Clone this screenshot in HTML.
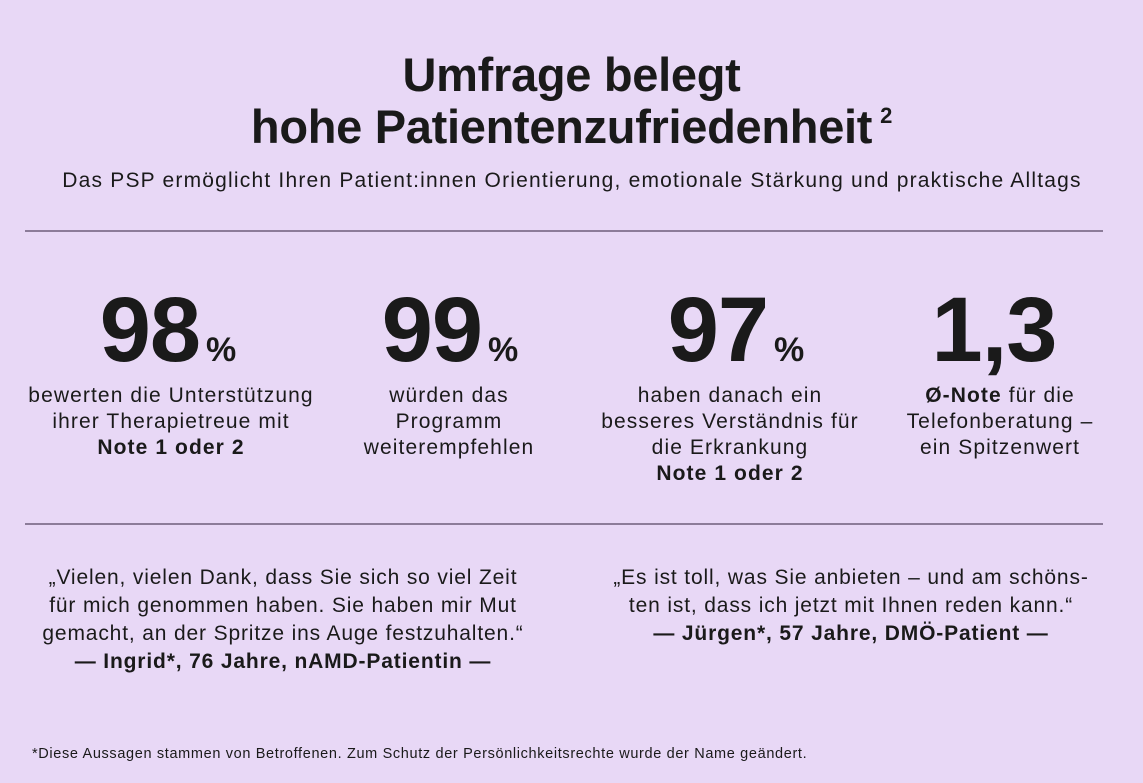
<!DOCTYPE html>
<html><head><meta charset="utf-8"><style>
body{margin:0;width:1143px;height:783px;background:#e8d8f6;font-family:"Liberation Sans",sans-serif;color:#1a1a1a;position:relative;overflow:hidden}
.a{position:absolute;white-space:nowrap}
.c{transform:translateX(-50%);text-align:center}
h1{position:absolute;left:0;width:1143px;text-align:center;margin:0;font-size:47px;font-weight:bold;line-height:52px;top:49px;letter-spacing:-0.3px}
sup{font-size:22px;line-height:0;vertical-align:20px;margin-left:8px}
.hr{position:absolute;left:25px;width:1078px;height:2px;background:#8c7c99}
.big{font-size:92px;font-weight:bold;letter-spacing:-1px;line-height:90px}
.big span{font-size:34px;letter-spacing:0;margin-left:6px}
.d{font-size:21px;line-height:26px;letter-spacing:1.1px}
.q{font-size:21px;line-height:28px;letter-spacing:0.85px}
</style></head><body>
<h1>Umfrage belegt<br>hohe Patientenzufriedenheit<sup>2</sup></h1>
<div class="a c" style="left:572px;top:169px;font-size:21px;letter-spacing:1.2px">Das PSP ermöglicht Ihren Patient:innen Orientierung, emotionale Stärkung und praktische Alltags</div>
<div class="hr" style="top:230px"></div>
<div class="a c big" style="left:168px;top:285px">98<span>%</span></div>
<div class="a c big" style="left:450px;top:285px">99<span>%</span></div>
<div class="a c big" style="left:736px;top:285px">97<span>%</span></div>
<div class="a c big" style="left:994px;top:285px">1,3</div>
<div class="a c d" style="left:171px;top:383px">bewerten die Unterstützung<br>ihrer Therapietreue mit<br><b>Note 1 oder 2</b></div>
<div class="a c d" style="left:449px;top:383px">würden das<br>Programm<br>weiterempfehlen</div>
<div class="a c d" style="left:730px;top:383px">haben danach ein<br>besseres Verständnis für<br>die Erkrankung<br><b>Note 1 oder 2</b></div>
<div class="a c d" style="left:1000px;top:383px"><b>Ø-Note</b> für die<br>Telefonberatung –<br>ein Spitzenwert</div>
<div class="hr" style="top:523px"></div>
<div class="a c q" style="left:283px;top:564px">„Vielen, vielen Dank, dass Sie sich so viel Zeit<br>für mich genommen haben. Sie haben mir Mut<br>gemacht, an der Spritze ins Auge festzuhalten.“<br><b>— Ingrid*, 76 Jahre, nAMD-Patientin —</b></div>
<div class="a c q" style="left:851px;top:564px">„Es ist toll, was Sie anbieten – und am schöns-<br>ten ist, dass ich jetzt mit Ihnen reden kann.“<br><b>— Jürgen*, 57 Jahre, DMÖ-Patient —</b></div>
<div class="a" style="left:32px;top:746px;font-size:14.5px;letter-spacing:0.65px">*Diese Aussagen stammen von Betroffenen. Zum Schutz der Persönlichkeitsrechte wurde der Name geändert.</div>
</body></html>
